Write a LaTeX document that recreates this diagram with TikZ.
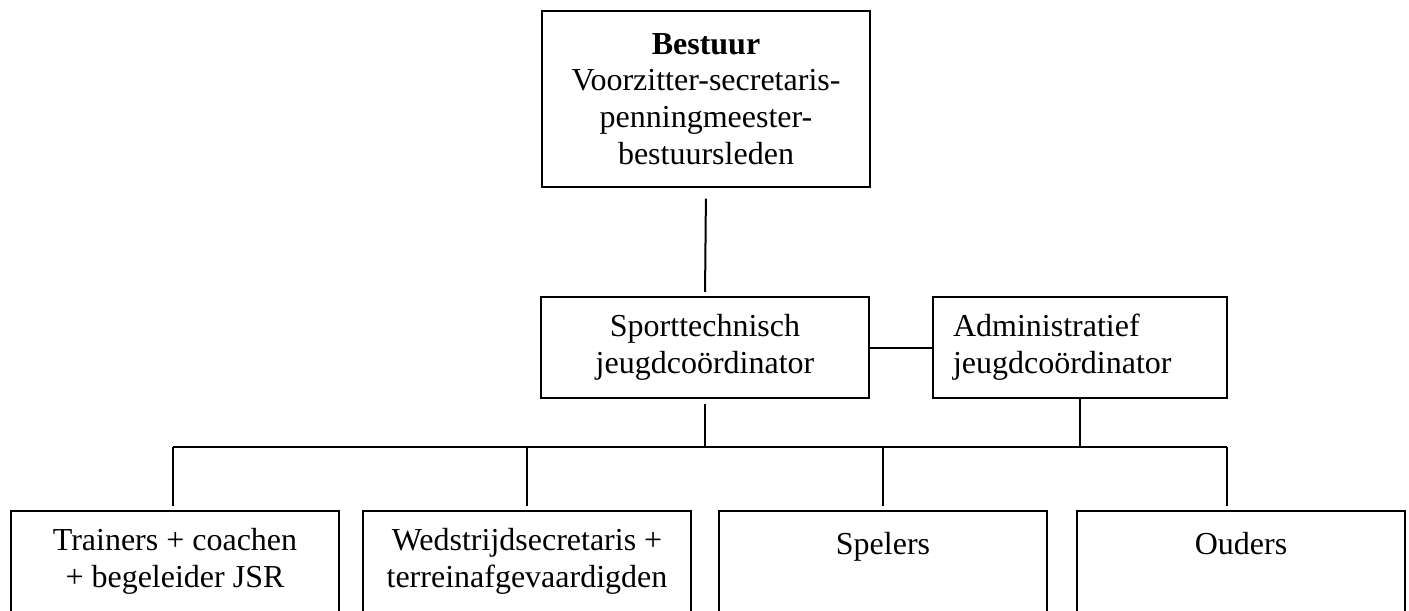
\documentclass[tikz,border=0pt]{standalone}
\usepackage{fontspec}
\setmainfont{Liberation Serif}
\usepackage{tikz}
\usetikzlibrary{positioning}

\tikzset{
	orgbox/.style={draw, rectangle, line width=0.75pt, minimum width=123pt, minimum height=37.9pt, align=center, font=\fontsize{12}{13.8}\selectfont},
	link/.style={line width=0.75pt}
}

\begin{document}
\begin{tikzpicture}[x=0.375pt, y=-0.375pt]
				\useasboundingbox (0,0) rectangle (1409,610);
				% bovenste laag
				\node[orgbox, minimum height=66pt] (bestuur) at (706,99) {\textbf{Bestuur}\\Voorzitter-secretaris-\\penningmeester-\\bestuursleden};
				% middelste laag
				\node[orgbox] (sport) at (705,347.5) {Sporttechnisch\\jeugdco\"ordinator};
				\node[orgbox, minimum width=110.25pt, text width=95.25pt, inner xsep=7.5pt, align=left] (admin) at (1080,347.5) {Administratief\\jeugdco\"ordinator};
				% onderste laag
				\node[orgbox] (trainers) at (175,561.5) {Trainers + coachen\\+ begeleider JSR};
				\node[orgbox] (wedstrijd) at (527,561.5) {Wedstrijdsecretaris +\\terreinafgevaardigden};
				\node[orgbox] (spelers) at (883,561.5) {Spelers\\~};
				\node[orgbox] (ouders) at (1241,561.5) {Ouders\\~};
				\coordinate (busL) at (173,447);
				\coordinate (busR) at (1227,447);
				% verbindingen
				\draw[link, shorten <=4pt, shorten >=1.5pt] (bestuur.south) -- (sport.north);
				\draw[link] (sport.east) -- (admin.west);
				\draw[link, shorten <=2pt] (sport.south) -- (sport.south |- busL);
				\draw[link] (admin.south) -- (admin.south |- busL);
				\draw[link] (busL) -- (busR);
				\draw[link, shorten >=1.5pt] (busL) -- (busL |- trainers.north);
				\foreach \n in {wedstrijd, spelers}
					\draw[link, shorten >=1.5pt] (\n.north |- busL) -- (\n.north);
				\draw[link, shorten >=1.5pt] (busR) -- (busR |- ouders.north);
			\end{tikzpicture}
\end{document}
